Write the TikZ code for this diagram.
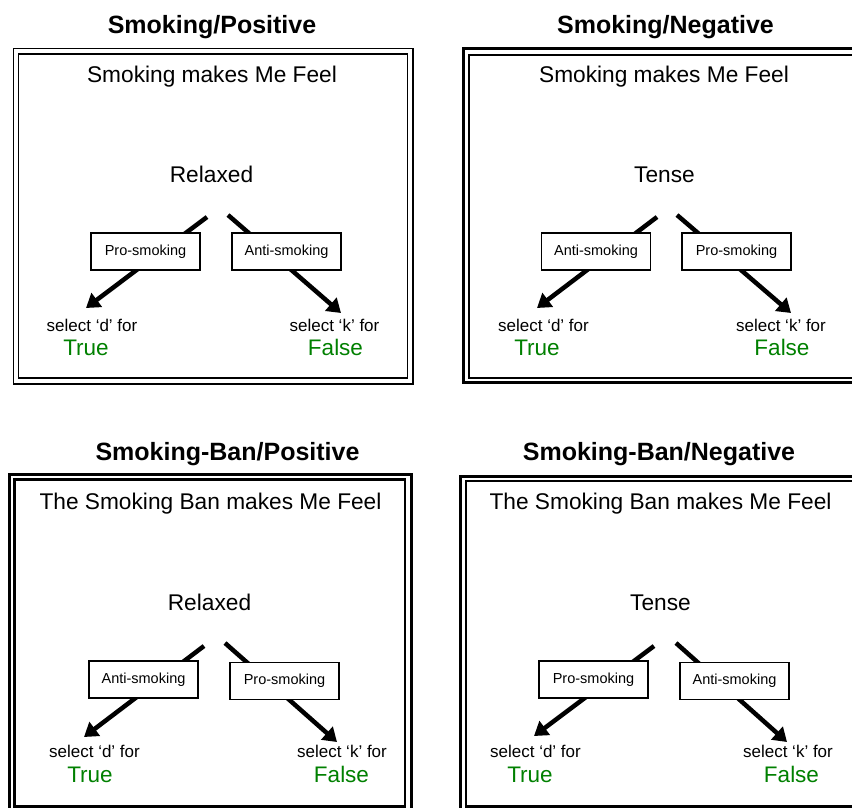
\documentclass[tikz,border=0pt]{standalone}
\usepackage{fontspec}
\setmainfont{Liberation Sans}
\usetikzlibrary{arrows.meta}
\definecolor{tfgreen}{RGB}{0,128,0}

\begin{document}
\begin{tikzpicture}[
    x=1pt, y=-1pt,
    ttl/.style={anchor=base, inner sep=0, font=\fontsize{25}{30}\selectfont\bfseries},
    prompt/.style={anchor=base, inner sep=0, font=\fontsize{22.7}{27}\selectfont},
    choice/.style={rectangle, draw, line width=1.2pt, fill=white, minimum width=109pt, minimum height=37pt, inner sep=0, font=\fontsize{14.5}{16}\selectfont},
    hint/.style={anchor=base, inner sep=0, font=\fontsize{17}{20}\selectfont},
    answer/.style={anchor=base, inner sep=0, text=tfgreen, font=\fontsize{22.5}{26}\selectfont},
    arr/.style={line width=4.5pt, -{Triangle[length=13.5pt, width=17pt]}},
    frame/.style={draw, line width=#1},
    frame/.default=1.3pt
]
    \useasboundingbox (0,0) rectangle (852,807);
    \clip (0,0) rectangle (852,807);

    % Frames
    \draw[frame] (13.5,48.5) rectangle (413,384);
    \draw[frame] (18.5,54) rectangle (407.5,378);
    \draw[frame=3pt] (463.5,48.5) rectangle (870,382);
    \draw[frame=2pt] (469,54.5) rectangle (864,378);
    \draw[frame=3pt] (9.5,474.5) rectangle (411,820);
    \draw[frame=2.5pt] (14.5,479.5) rectangle (405,806.5);
    \draw[frame=3pt] (460,476) rectangle (870,820);
    \draw[frame=2.5pt] (466,481) rectangle (864,806.5);

    % Smoking/Positive
    \node[ttl] (sp-title) at (212,33.5) {Smoking/Positive};
    \node[prompt] (sp-head) at (212,82) {Smoking makes Me Feel};
    \node[prompt] (sp-mood) at (211.5,182.5) {Relaxed};
    \coordinate (sp-ls) at (207,217);
    \coordinate (sp-le) at (86,308);
    \coordinate (sp-rs) at (228,215);
    \coordinate (sp-re) at (341,313);
    \node[hint] (sp-keyl) at (92,331.5) {select `d' for};
    \node[answer] (sp-true) at (86,355) {True};
    \node[hint] (sp-keyr) at (334.5,331.5) {select `k' for};
    \node[answer] (sp-false) at (335.5,355) {False};

    % Smoking/Negative
    \node[ttl] (sn-title) at (665.5,33.5) {Smoking/Negative};
    \node[prompt] (sn-head) at (664,82) {Smoking makes Me Feel};
    \node[prompt] (sn-mood) at (664.5,182.5) {Tense};
    \coordinate (sn-ls) at (657,217);
    \coordinate (sn-le) at (537,308);
    \coordinate (sn-rs) at (677,215);
    \coordinate (sn-re) at (791,313);
    \node[hint] (sn-keyl) at (543.5,331.5) {select `d' for};
    \node[answer] (sn-true) at (537,355) {True};
    \node[hint] (sn-keyr) at (781,331.5) {select `k' for};
    \node[answer] (sn-false) at (782,355) {False};

    % Smoking-Ban/Positive
    \node[ttl] (bp-title) at (227.5,460) {Smoking-Ban/Positive};
    \node[prompt] (bp-head) at (210.5,509) {The Smoking Ban makes Me Feel};
    \node[prompt] (bp-mood) at (209.5,610) {Relaxed};
    \coordinate (bp-ls) at (204,646);
    \coordinate (bp-le) at (84,737);
    \coordinate (bp-rs) at (225,643);
    \coordinate (bp-re) at (337,742);
    \node[hint] (bp-keyl) at (94.5,757.5) {select `d' for};
    \node[answer] (bp-true) at (90,782.7) {True};
    \node[hint] (bp-keyr) at (342,757.5) {select `k' for};
    \node[answer] (bp-false) at (341.5,782.7) {False};

    % Smoking-Ban/Negative
    \node[ttl] (bn-title) at (659,460) {Smoking-Ban/Negative};
    \node[prompt] (bn-head) at (660.5,509) {The Smoking Ban makes Me Feel};
    \node[prompt] (bn-mood) at (660.5,610) {Tense};
    \coordinate (bn-ls) at (654,646);
    \coordinate (bn-le) at (534,736);
    \coordinate (bn-rs) at (676,643);
    \coordinate (bn-re) at (787,742);
    \node[hint] (bn-keyl) at (535.5,757.5) {select `d' for};
    \node[answer] (bn-true) at (530,782.7) {True};
    \node[hint] (bn-keyr) at (788,757.5) {select `k' for};
    \node[answer] (bn-false) at (791.5,782.7) {False};

    % Arrows
    \foreach \p in {sp, sn, bp, bn} {
        \draw[arr] (\p-ls) -- (\p-le);
        \draw[arr] (\p-rs) -- (\p-re);
    }

    % Labels on the arrows
    \node[choice] (sp-pro) at (145.5,251.5) {Pro-smoking};
    \node[choice] (sp-anti) at (286.5,251.5) {Anti-smoking};
    \node[choice] (sn-anti) at (596,251.5) {Anti-smoking};
    \node[choice] (sn-pro) at (736.5,251.5) {Pro-smoking};
    \node[choice] (bp-anti) at (143.5,679.5) {Anti-smoking};
    \node[choice] (bp-pro) at (284.5,681) {Pro-smoking};
    \node[choice] (bn-pro) at (593.5,679.5) {Pro-smoking};
    \node[choice] (bn-anti) at (734.5,681) {Anti-smoking};
\end{tikzpicture}
\end{document}
